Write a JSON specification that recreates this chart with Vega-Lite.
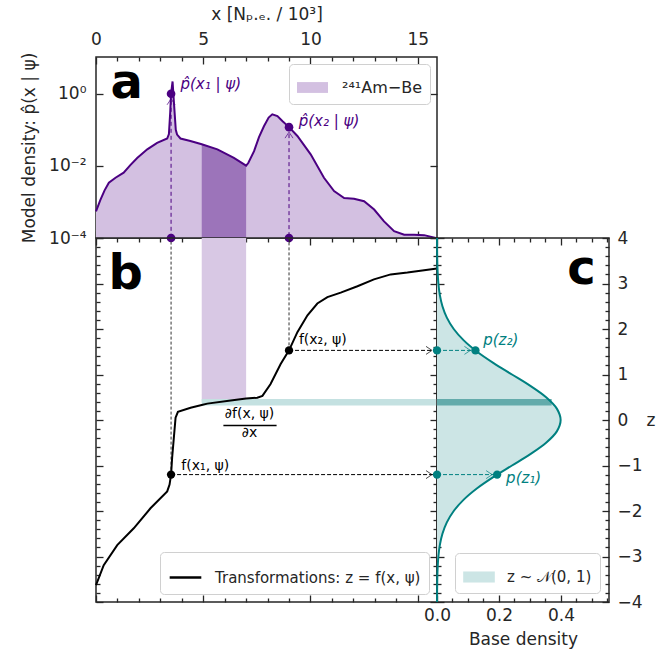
{
"$schema": "https://vega.github.io/schema/vega-lite/v6.json",
"padding": {"left": 19, "top": 4, "right": 5, "bottom": 2},
"background": "white",
"spacing": 0,
"bounds": "flush",
"config": {
  "font": "DejaVu Sans",
  "view": {"stroke": "#262626", "strokeWidth": 1.5},
  "axis": {"domain": false, "grid": false, "labelFontSize": 17, "labelColor": "#262626", "titleFontSize": 17, "titleFontWeight": "normal", "titleColor": "#262626", "tickColor": "#262626", "tickWidth": 1.3, "labelFlush": false, "labelOverlap": false, "labelBound": false},
  "legend": {"labelFontSize": 15, "labelColor": "#262626", "strokeColor": "#d0d0d0", "fillColor": "white", "padding": 8, "cornerRadius": 4, "labelOffset": 12, "labelLimit": 400}
},
"resolve": {"scale": {"color": "independent"}, "legend": {"color": "independent"}},
"datasets": {
  "dens": [{"x":0,"p":0.00055},{"x":0.2,"p":0.00112},{"x":0.4,"p":0.0021},{"x":0.6,"p":0.0034},{"x":0.91,"p":0.0047},{"x":1.29,"p":0.0065},{"x":1.6,"p":0.0105},{"x":1.92,"p":0.0166},{"x":2.39,"p":0.0288},{"x":2.85,"p":0.0437},{"x":3.32,"p":0.0575},{"x":3.4,"p":0.076},{"x":3.46,"p":0.3},{"x":3.5,"p":1.0},{"x":3.57,"p":2.2},{"x":3.64,"p":0.5},{"x":3.72,"p":0.1},{"x":3.78,"p":0.074},{"x":3.94,"p":0.0575},{"x":4.4,"p":0.049},{"x":4.93,"p":0.0398},{"x":5.66,"p":0.0288},{"x":6.43,"p":0.0166},{"x":7.0,"p":0.0102},{"x":7.1,"p":0.012},{"x":7.37,"p":0.0257},{"x":7.6,"p":0.063},{"x":7.83,"p":0.126},{"x":8.05,"p":0.219},{"x":8.22,"p":0.269},{"x":8.46,"p":0.24},{"x":8.7,"p":0.174},{"x":9.0,"p":0.119},{"x":9.39,"p":0.0676},{"x":10.01,"p":0.0209},{"x":10.63,"p":0.00468},{"x":11.1,"p":0.002},{"x":11.57,"p":0.00129},{"x":12.03,"p":0.00123},{"x":12.5,"p":0.00105},{"x":12.97,"p":0.000617},{"x":13.43,"p":0.000288},{"x":13.9,"p":0.000155},{"x":14.37,"p":0.000123},{"x":14.83,"p":0.000123},{"x":15.3,"p":0.00012},{"x":15.84,"p":0.0001}],
  "flow": [{"x":0,"z":-3.63},{"x":0.36,"z":-3.19},{"x":0.99,"z":-2.75},{"x":1.76,"z":-2.38},{"x":2.54,"z":-1.94},{"x":3.32,"z":-1.57},{"x":3.43,"z":-1.42},{"x":3.5,"z":-1.2},{"x":3.55,"z":-0.83},{"x":3.71,"z":0.05},{"x":3.82,"z":0.18},{"x":4.41,"z":0.27},{"x":4.93,"z":0.33},{"x":5.19,"z":0.36},{"x":6.28,"z":0.43},{"x":7.0,"z":0.47},{"x":7.52,"z":0.49},{"x":7.76,"z":0.53},{"x":8.14,"z":0.79},{"x":8.61,"z":1.23},{"x":9.0,"z":1.53},{"x":9.39,"z":1.93},{"x":9.86,"z":2.3},{"x":10.32,"z":2.56},{"x":10.79,"z":2.7},{"x":11.41,"z":2.8},{"x":12.19,"z":2.94},{"x":12.96,"z":3.09},{"x":13.74,"z":3.2},{"x":14.52,"z":3.24},{"x":15.3,"z":3.29},{"x":15.9,"z":3.33}],
  "pdf": [{"z":-4,"d":0.00013},{"z":-3.75,"d":0.00035},{"z":-3.5,"d":0.00087},{"z":-3.25,"d":0.00203},{"z":-3,"d":0.00443},{"z":-2.75,"d":0.00909},{"z":-2.5,"d":0.01753},{"z":-2.25,"d":0.03174},{"z":-2,"d":0.05399},{"z":-1.75,"d":0.08628},{"z":-1.5,"d":0.12952},{"z":-1.25,"d":0.18265},{"z":-1,"d":0.24197},{"z":-0.75,"d":0.30114},{"z":-0.5,"d":0.35207},{"z":-0.25,"d":0.38667},{"z":0,"d":0.39894},{"z":0.25,"d":0.38667},{"z":0.5,"d":0.35207},{"z":0.75,"d":0.30114},{"z":1,"d":0.24197},{"z":1.25,"d":0.18265},{"z":1.5,"d":0.12952},{"z":1.75,"d":0.08628},{"z":2,"d":0.05399},{"z":2.25,"d":0.03174},{"z":2.5,"d":0.01753},{"z":2.75,"d":0.00909},{"z":3,"d":0.00443},{"z":3.25,"d":0.00203},{"z":3.5,"d":0.00087},{"z":3.75,"d":0.00035},{"z":4,"d":0.00013}],
  "samples": [{"x":3.5,"p":1.0,"z":-1.2,"d":0.194,"pb":0.0001,"zt":4,"xr":15.9,"d0":0},{"x":9.0,"p":0.119,"z":1.53,"d":0.124,"pb":0.0001,"zt":4,"xr":15.9,"d0":0}]
},
"vconcat": [
{
  "width": 341, "height": 181,
  "resolve": {"axis": {"x": "independent", "y": "independent"}},
  "layer": [
    {"data": {"name": "dens"}, "mark": {"type": "area"},
     "encoding": {
       "x": {"field": "x", "type": "quantitative", "scale": {"domain": [0, 15.9], "nice": false, "zero": false},
             "axis": {"orient": "top", "values": [0,1,2,3,4,5,6,7,8,9,10,11,12,13,14,15], "labelExpr": "datum.value % 5 === 0 ? datum.label : ''", "tickSize": {"condition": {"test": "datum.value % 5 === 0", "value": -7}, "value": -4}, "labelPadding": 16, "title": "x [Nₚ.ₑ. / 10³]", "titlePadding": 4}},
       "y": {"field": "p", "type": "quantitative", "stack": null, "scale": {"type": "log", "domain": [0.0001, 10.5], "nice": false},
             "axis": {"orient": "left", "values": [0.0001, 0.01, 1], "labelExpr": "datum.value >= 0.5 ? '10⁰' : datum.value >= 0.005 ? '10⁻²' : '10⁻⁴'", "tickSize": -7, "labelPadding": 17, "title": "Model density: p̂(x | ψ)", "titlePadding": 10}},
       "y2": {"value": "height"},
       "color": {"datum": "²⁴¹Am−Be", "type": "nominal", "scale": {"range": ["#d3c0e1"]}, "legend": {"orient": "top-right", "offset": 7, "title": null, "symbolType": "M-1,-0.35H1V0.35H-1Z", "symbolSize": 960, "labelFontSize": 16, "labelOffset": 14, "symbolStrokeWidth": 0}}
     }},
    {"data": {"name": "dens"}, "transform": [{"filter": "datum.x >= 4.93 && datum.x <= 7.0"}], "mark": {"type": "area", "color": "#9c74ba"},
     "encoding": {
       "x": {"field": "x", "type": "quantitative", "axis": {"orient": "bottom", "values": [0,1,2,3,4,5,6,7,8,9,10,11,12,13,14,15], "labels": false, "tickSize": {"condition": {"test": "datum.value % 5 === 0", "value": -7}, "value": -4}, "title": null}},
       "y": {"field": "p", "type": "quantitative", "stack": null, "axis": {"orient": "right", "values": [0.0001, 0.01, 1], "labels": false, "tickSize": -7, "title": null}},
       "y2": {"value": "height"}
     }},
    {"data": {"name": "dens"}, "mark": {"type": "line", "color": "#4b0082", "strokeWidth": 2},
     "encoding": {"x": {"field": "x", "type": "quantitative", "axis": null}, "y": {"field": "p", "type": "quantitative", "axis": null}}},
    {"data": {"name": "samples"}, "mark": {"type": "rule", "color": "#4b0082", "strokeWidth": 1, "strokeDash": [4, 3]},
     "encoding": {"x": {"field": "x", "type": "quantitative", "axis": null}, "y": {"field": "p", "type": "quantitative", "axis": null}, "y2": {"field": "pb"}}},
    {"data": {"name": "samples"}, "mark": {"type": "point", "shape": "M-0.8,2.2L0,1L0.8,2.2", "size": 100, "filled": false, "color": "#4b0082", "strokeWidth": 1},
     "encoding": {"x": {"field": "x", "type": "quantitative", "axis": null}, "y": {"field": "p", "type": "quantitative", "axis": null}}},
    {"data": {"values": [{"x":3.5,"p":1.0},{"x":9.0,"p":0.119},{"x":3.5,"p":0.0001},{"x":9.0,"p":0.0001}]}, "mark": {"type": "circle", "size": 75, "color": "#4b0082", "opacity": 1},
     "encoding": {"x": {"field": "x", "type": "quantitative", "axis": null}, "y": {"field": "p", "type": "quantitative", "axis": null}}},
    {"data": {"values": [{"x":3.94,"p":1.86,"t":"p̂(x₁ | ψ)"},{"x":9.45,"p":0.175,"t":"p̂(x₂ | ψ)"}]}, "mark": {"type": "text", "align": "left", "baseline": "middle", "fontSize": 15, "fontStyle": "italic", "color": "#4b0082"},
     "encoding": {"x": {"field": "x", "type": "quantitative", "axis": null}, "y": {"field": "p", "type": "quantitative", "axis": null}, "text": {"field": "t", "type": "nominal"}}},
    {"data": {"values": [{"x":0.68,"p":0.77,"t":"a"}]}, "mark": {"type": "text", "align": "left", "baseline": "alphabetic", "fontSize": 48, "fontWeight": "bold", "color": "black"},
     "encoding": {"x": {"field": "x", "type": "quantitative", "axis": null}, "y": {"field": "p", "type": "quantitative", "axis": null}, "text": {"field": "t", "type": "nominal"}}}
  ]
},
{
  "hconcat": [
  {
    "width": 341, "height": 364,
    "resolve": {"axis": {"x": "independent", "y": "independent"}},
    "layer": [
      {"data": {"values": [{"x1": 4.93, "x2": 7.0, "z1": 0.4, "z2": 4}]}, "mark": {"type": "rect", "color": "#d8c8e4"},
       "encoding": {
         "x": {"field": "x1", "type": "quantitative", "scale": {"domain": [0, 15.9], "nice": false, "zero": false}, "axis": {"orient": "bottom", "values": [0,1,2,3,4,5,6,7,8,9,10,11,12,13,14,15], "labels": false, "tickSize": {"condition": {"test": "datum.value % 5 === 0", "value": -7}, "value": -4}, "title": null}},
         "x2": {"field": "x2"},
         "y": {"field": "z1", "type": "quantitative", "scale": {"domain": [-4, 4], "nice": false, "zero": false}, "axis": {"orient": "left", "values": [-4,-3.8,-3.6,-3.4,-3.2,-3,-2.8,-2.6,-2.4,-2.2,-2,-1.8,-1.6,-1.4,-1.2,-1,-0.8,-0.6,-0.4,-0.2,0,0.2,0.4,0.6,0.8,1,1.2,1.4,1.6,1.8,2,2.2,2.4,2.6,2.8,3,3.2,3.4,3.6,3.8,4], "labels": false, "tickSize": {"condition": {"test": "abs(datum.value - round(datum.value)) < 0.001", "value": -7}, "value": -4}, "title": null}},
         "y2": {"field": "z2"}
       }},
      {"data": {"values": [{"x1": 4.93, "x2": 15.9, "z1": 0.32, "z2": 0.46}]}, "mark": {"type": "rect", "color": "#c4e1e1"},
       "encoding": {
         "x": {"field": "x1", "type": "quantitative", "axis": {"orient": "top", "values": [0,1,2,3,4,5,6,7,8,9,10,11,12,13,14,15], "labels": false, "tickSize": {"condition": {"test": "datum.value % 5 === 0", "value": -7}, "value": -4}, "title": null}},
         "x2": {"field": "x2"},
         "y": {"field": "z1", "type": "quantitative", "axis": {"orient": "right", "values": [-4,-3.8,-3.6,-3.4,-3.2,-3,-2.8,-2.6,-2.4,-2.2,-2,-1.8,-1.6,-1.4,-1.2,-1,-0.8,-0.6,-0.4,-0.2,0,0.2,0.4,0.6,0.8,1,1.2,1.4,1.6,1.8,2,2.2,2.4,2.6,2.8,3,3.2,3.4,3.6,3.8,4], "labels": false, "tickSize": {"condition": {"test": "abs(datum.value - round(datum.value)) < 0.001", "value": -7}, "value": -4}, "title": null}},
         "y2": {"field": "z2"}
       }},
      {"data": {"name": "samples"}, "mark": {"type": "rule", "color": "#333333", "strokeWidth": 1, "strokeDash": [3, 2]},
       "encoding": {"x": {"field": "x", "type": "quantitative", "axis": null}, "y": {"field": "z", "type": "quantitative", "axis": null}, "y2": {"field": "zt"}}},
      {"data": {"name": "samples"}, "mark": {"type": "rule", "color": "black", "strokeWidth": 1, "strokeDash": [4, 2]},
       "encoding": {"x": {"field": "x", "type": "quantitative", "axis": null}, "x2": {"field": "xr"}, "y": {"field": "z", "type": "quantitative", "axis": null}}},
      {"data": {"name": "samples"}, "mark": {"type": "point", "shape": "M-2.2,-0.8L-1,0L-2.2,0.8", "size": 100, "filled": false, "color": "black", "strokeWidth": 1},
       "encoding": {"x": {"field": "xr", "type": "quantitative", "axis": null}, "y": {"field": "z", "type": "quantitative", "axis": null}}},
      {"data": {"name": "flow"}, "mark": {"type": "line", "strokeWidth": 2},
       "encoding": {
         "x": {"field": "x", "type": "quantitative", "axis": null},
         "y": {"field": "z", "type": "quantitative", "axis": null},
         "color": {"datum": "Transformations: z = f(x, ψ)", "type": "nominal", "scale": {"range": ["black"]}, "legend": {"orient": "bottom-right", "offset": 8, "title": null, "symbolType": "stroke", "symbolSize": 1000, "symbolStrokeWidth": 2.5, "labelFontSize": 15, "labelOffset": 12, "labelLimit": 400}}
       }},
      {"data": {"name": "samples"}, "mark": {"type": "circle", "size": 70, "color": "black", "opacity": 1},
       "encoding": {"x": {"field": "x", "type": "quantitative", "axis": null}, "y": {"field": "z", "type": "quantitative", "axis": null}}},
      {"data": {"values": [{"x":3.98,"z":-1.02,"t":"f(x₁, ψ)"},{"x":9.46,"z":1.75,"t":"f(x₂, ψ)"}]}, "mark": {"type": "text", "align": "left", "baseline": "middle", "fontSize": 14, "color": "black"},
       "encoding": {"x": {"field": "x", "type": "quantitative", "axis": null}, "y": {"field": "z", "type": "quantitative", "axis": null}, "text": {"field": "t", "type": "nominal"}}},
      {"data": {"values": [{"x":7.16,"z":0.14,"t":"∂f(x, ψ)"},{"x":7.16,"z":-0.29,"t":"∂x"}]}, "mark": {"type": "text", "align": "center", "baseline": "middle", "fontSize": 14, "color": "black"},
       "encoding": {"x": {"field": "x", "type": "quantitative", "axis": null}, "y": {"field": "z", "type": "quantitative", "axis": null}, "text": {"field": "t", "type": "nominal"}}},
      {"data": {"values": [{"x1":5.94,"x2":8.42,"z":-0.12}]}, "mark": {"type": "rule", "color": "black", "strokeWidth": 1.5},
       "encoding": {"x": {"field": "x1", "type": "quantitative", "axis": null}, "x2": {"field": "x2"}, "y": {"field": "z", "type": "quantitative", "axis": null}}},
      {"data": {"values": [{"x":0.58,"z":2.87,"t":"b"}]}, "mark": {"type": "text", "align": "left", "baseline": "alphabetic", "fontSize": 48, "fontWeight": "bold", "color": "black"},
       "encoding": {"x": {"field": "x", "type": "quantitative", "axis": null}, "y": {"field": "z", "type": "quantitative", "axis": null}, "text": {"field": "t", "type": "nominal"}}}
    ]
  },
  {
    "width": 172, "height": 364,
    "resolve": {"axis": {"x": "independent", "y": "independent"}},
    "layer": [
      {"data": {"name": "pdf"}, "mark": {"type": "area", "orient": "horizontal", "interpolate": "catmull-rom"},
       "encoding": {
         "y": {"field": "z", "type": "quantitative", "scale": {"domain": [-4, 4], "nice": false, "zero": false}, "axis": {"orient": "right", "values": [-4,-3.8,-3.6,-3.4,-3.2,-3,-2.8,-2.6,-2.4,-2.2,-2,-1.8,-1.6,-1.4,-1.2,-1,-0.8,-0.6,-0.4,-0.2,0,0.2,0.4,0.6,0.8,1,1.2,1.4,1.6,1.8,2,2.2,2.4,2.6,2.8,3,3.2,3.4,3.6,3.8,4], "labelExpr": "abs(datum.value - round(datum.value)) < 0.001 ? format(datum.value, 'd') : ''", "tickSize": {"condition": {"test": "abs(datum.value - round(datum.value)) < 0.001", "value": -7}, "value": -4}, "labelPadding": 15, "title": "z", "titleAngle": 0, "titleAlign": "left", "titleBaseline": "middle", "titlePadding": 4}},
         "x": {"field": "d", "type": "quantitative", "stack": null, "scale": {"domain": [0, 0.555], "nice": false, "zero": true}, "axis": {"orient": "bottom", "values": [0,0.05,0.1,0.15,0.2,0.25,0.3,0.35,0.4,0.45,0.5,0.55], "labelExpr": "abs(datum.value * 5 - round(datum.value * 5)) < 0.001 ? format(datum.value, '.1f') : ''", "tickSize": {"condition": {"test": "abs(datum.value * 5 - round(datum.value * 5)) < 0.001", "value": -7}, "value": -4}, "labelPadding": 12, "title": "Base density", "titlePadding": 5}},
         "color": {"datum": "z ~ 𝒩(0, 1)", "type": "nominal", "scale": {"range": ["#cce5e5"]}, "legend": {"orient": "bottom-right", "offset": 9, "title": null, "symbolType": "M-1,-0.35H1V0.35H-1Z", "symbolSize": 1000, "labelFontSize": 15, "labelOffset": 12, "symbolStrokeWidth": 0}}
       }},
      {"data": {"values": [{"d1": 0, "d2": 0.37, "z1": 0.32, "z2": 0.46}]}, "mark": {"type": "rect", "color": "#63abab"},
       "encoding": {
         "x": {"field": "d1", "type": "quantitative", "axis": {"orient": "top", "values": [0,0.05,0.1,0.15,0.2,0.25,0.3,0.35,0.4,0.45,0.5,0.55], "labels": false, "tickSize": {"condition": {"test": "abs(datum.value * 5 - round(datum.value * 5)) < 0.001", "value": -7}, "value": -4}, "title": null}},
         "x2": {"field": "d2"},
         "y": {"field": "z1", "type": "quantitative", "axis": {"orient": "left", "values": [-4,-3.8,-3.6,-3.4,-3.2,-3,-2.8,-2.6,-2.4,-2.2,-2,-1.8,-1.6,-1.4,-1.2,-1,-0.8,-0.6,-0.4,-0.2,0,0.2,0.4,0.6,0.8,1,1.2,1.4,1.6,1.8,2,2.2,2.4,2.6,2.8,3,3.2,3.4,3.6,3.8,4], "labels": false, "tickSize": {"condition": {"test": "abs(datum.value - round(datum.value)) < 0.001", "value": -7}, "value": -4}, "title": null}},
         "y2": {"field": "z2"}
       }},
      {"data": {"name": "pdf"}, "mark": {"type": "line", "color": "#008080", "strokeWidth": 2, "interpolate": "catmull-rom"},
       "encoding": {"x": {"field": "d", "type": "quantitative", "axis": null}, "y": {"field": "z", "type": "quantitative", "axis": null}, "order": {"field": "z", "type": "quantitative"}}},
      {"data": {"name": "samples"}, "mark": {"type": "rule", "color": "#008080", "strokeWidth": 1, "strokeDash": [4, 2]},
       "encoding": {"x": {"field": "d0", "type": "quantitative", "axis": null}, "x2": {"field": "d"}, "y": {"field": "z", "type": "quantitative", "axis": null}}},
      {"data": {"name": "samples"}, "mark": {"type": "point", "shape": "M-2.2,-0.8L-1,0L-2.2,0.8", "size": 100, "filled": false, "color": "#008080", "strokeWidth": 1},
       "encoding": {"x": {"field": "d", "type": "quantitative", "axis": null}, "y": {"field": "z", "type": "quantitative", "axis": null}}},
      {"data": {"values": [{"d":0,"z":-1.2},{"d":0,"z":1.53},{"d":0.194,"z":-1.2},{"d":0.124,"z":1.53}]}, "mark": {"type": "circle", "size": 70, "color": "#008080", "opacity": 1},
       "encoding": {"x": {"field": "d", "type": "quantitative", "axis": null}, "y": {"field": "z", "type": "quantitative", "axis": null}}},
      {"data": {"values": [{"d":0.149,"z":1.75,"t":"p(z₂)"},{"d":0.223,"z":-1.27,"t":"p(z₁)"}]}, "mark": {"type": "text", "align": "left", "baseline": "middle", "fontSize": 15, "fontStyle": "italic", "color": "#008080"},
       "encoding": {"x": {"field": "d", "type": "quantitative", "axis": null}, "y": {"field": "z", "type": "quantitative", "axis": null}, "text": {"field": "t", "type": "nominal"}}},
      {"data": {"values": [{"d":0.42,"z":3.0,"t":"c"}]}, "mark": {"type": "text", "align": "left", "baseline": "alphabetic", "fontSize": 48, "fontWeight": "bold", "color": "black"},
       "encoding": {"x": {"field": "d", "type": "quantitative", "axis": null}, "y": {"field": "z", "type": "quantitative", "axis": null}, "text": {"field": "t", "type": "nominal"}}}
    ]
  }
  ],
  "spacing": 0,
  "bounds": "flush",
  "resolve": {"scale": {"color": "independent"}, "legend": {"color": "independent"}}
}
]
}
